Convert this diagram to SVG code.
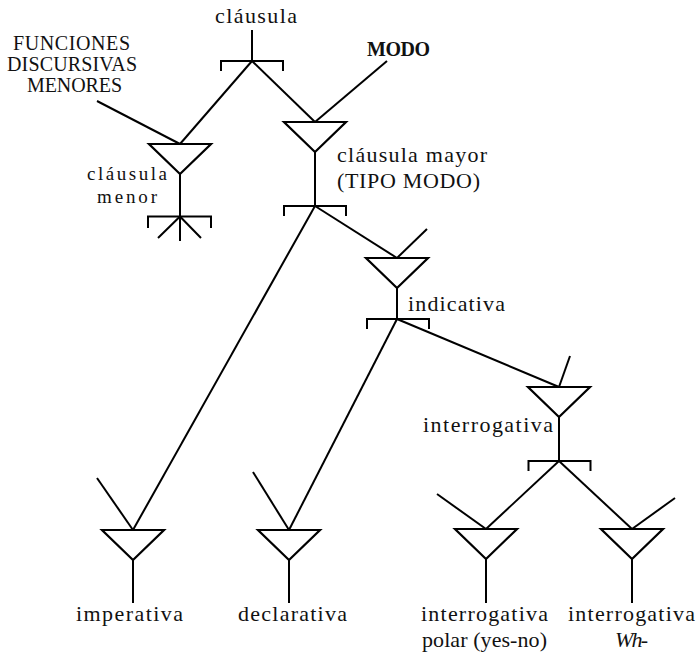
<svg xmlns="http://www.w3.org/2000/svg" width="698" height="652" viewBox="0 0 698 652">
<style>
  .ln { stroke: #000; stroke-width: 2; fill: none; }
  .tri { stroke: #000; stroke-width: 2.2; fill: #fff; stroke-linejoin: miter; }
  text { font-family: "Liberation Serif", "DejaVu Serif", serif; font-size: 22px; fill: #111; }
  .sm { font-size: 20px; }
  .xs { font-size: 19px; }
  .b { font-weight: bold; font-size: 20px; }
  .it { font-style: italic; }
</style>
<defs>
  <path id="tri" d="M-31,0 L31,0 L0,30 Z"/>
  <path id="brk" d="M-31,10 L-31,0 L31,0 L31,10"/>
</defs>
<rect width="698" height="652" fill="#fff"/>

<g id="connectors" class="ln">
  <line x1="252" y1="61" x2="180" y2="144"/>
  <line x1="252" y1="61" x2="315" y2="122"/>
  <line x1="97" y1="101" x2="180" y2="144"/>
  <line x1="387" y1="61" x2="315" y2="122"/>
  <line x1="315" y1="206" x2="133" y2="530"/>
  <line x1="315" y1="206" x2="397" y2="258"/>
  <line x1="427" y1="229" x2="397" y2="258"/>
  <line x1="397" y1="319" x2="289" y2="530"/>
  <line x1="397" y1="319" x2="559" y2="387"/>
  <line x1="570" y1="356" x2="559" y2="387"/>
  <line x1="559" y1="461" x2="486" y2="529"/>
  <line x1="559" y1="461" x2="632" y2="529"/>
  <line x1="437" y1="494" x2="486" y2="529"/>
  <line x1="675" y1="498" x2="632" y2="529"/>
  <line x1="97" y1="478" x2="133" y2="530"/>
  <line x1="253" y1="472" x2="289" y2="530"/>
</g>

<g id="n-clausula">
  <text x="215" y="23" textLength="82">cláusula</text>
  <line class="ln" x1="252" y1="30" x2="252" y2="61"/>
  <use href="#brk" class="ln" x="252" y="61"/>
</g>

<g id="n-funciones">
  <text class="sm" x="13" y="50" textLength="117">FUNCIONES</text>
  <text class="sm" x="7" y="71" textLength="130">DISCURSIVAS</text>
  <text class="sm" x="27" y="92" textLength="95">MENORES</text>
</g>

<g id="n-modo">
  <text class="b" x="367" y="56" textLength="63">MODO</text>
</g>

<g id="n-menor">
  <use href="#tri" class="tri" x="180" y="144"/>
  <line class="ln" x1="180" y1="174" x2="180" y2="241"/>
  <path class="ln" d="M148,228 L148,216.5 L211,216.5 L211,228"/>
  <path class="ln" d="M158,238 L180,216.5 L201,238"/>
  <text class="xs" x="87" y="180" textLength="80">cláusula</text>
  <text class="xs" x="97" y="203" textLength="60">menor</text>
</g>

<g id="n-mayor">
  <use href="#tri" class="tri" x="315" y="122"/>
  <line class="ln" x1="315" y1="152" x2="315" y2="206"/>
  <use href="#brk" class="ln" x="315" y="206"/>
  <text x="337" y="162" textLength="150">cláusula mayor</text>
  <text x="337" y="188" textLength="143">(TIPO MODO)</text>
</g>

<g id="n-indicativa">
  <use href="#tri" class="tri" x="397" y="258"/>
  <line class="ln" x1="397" y1="288" x2="397" y2="319"/>
  <use href="#brk" class="ln" x="398" y="319"/>
  <text x="408" y="311" textLength="97">indicativa</text>
</g>

<g id="n-interrogativa">
  <use href="#tri" class="tri" x="559" y="387"/>
  <line class="ln" x1="559" y1="417" x2="559" y2="461"/>
  <use href="#brk" class="ln" x="559.5" y="461"/>
  <text x="423" y="432" textLength="130">interrogativa</text>
</g>

<g id="n-imperativa">
  <use href="#tri" class="tri" x="133" y="530"/>
  <line class="ln" x1="133" y1="560" x2="133" y2="603"/>
  <text x="76" y="621" textLength="107">imperativa</text>
</g>

<g id="n-declarativa">
  <use href="#tri" class="tri" x="289" y="530"/>
  <line class="ln" x1="289" y1="560" x2="289" y2="603"/>
  <text x="238" y="621" textLength="109">declarativa</text>
</g>

<g id="n-polar">
  <use href="#tri" class="tri" x="486" y="529"/>
  <line class="ln" x1="486" y1="559" x2="486" y2="603"/>
  <text x="421" y="621" textLength="127">interrogativa</text>
  <text x="422" y="647" textLength="125">polar (yes-no)</text>
</g>

<g id="n-wh">
  <use href="#tri" class="tri" x="632" y="529"/>
  <line class="ln" x1="632" y1="559" x2="632" y2="603"/>
  <text x="568" y="621" textLength="127">interrogativa</text>
  <text class="it" x="615" y="647" textLength="33">Wh-</text>
</g>
</svg>
